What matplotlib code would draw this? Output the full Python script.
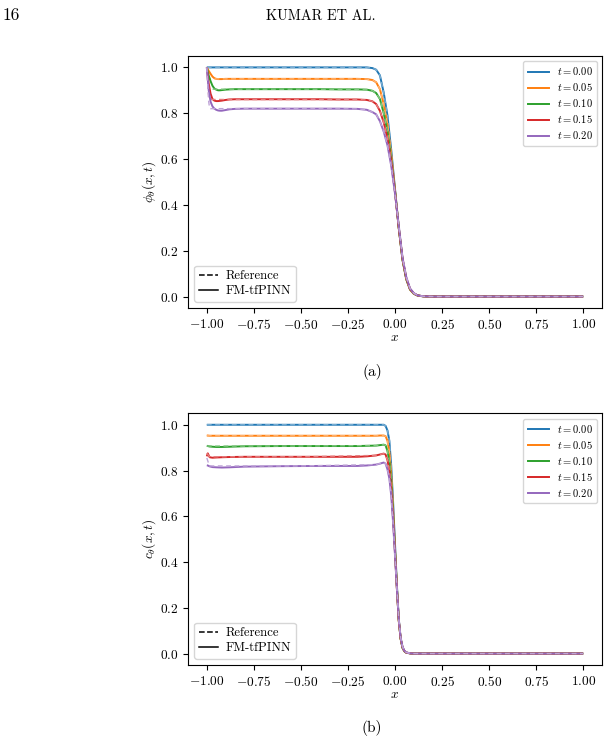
import numpy as np
import matplotlib
matplotlib.use('Agg')
import matplotlib.pyplot as plt
from matplotlib.lines import Line2D
from matplotlib.colors import to_rgb

# 字体设置：Computer Modern 风格
plt.rcParams['font.family'] = 'serif'
plt.rcParams['font.serif'] = ['cmr10', 'DejaVu Serif']
plt.rcParams['mathtext.fontset'] = 'cm'
plt.rcParams['axes.formatter.use_mathtext'] = True
plt.rcParams['axes.unicode_minus'] = True

# 时间标签
t_labels = ['0.00', '0.05', '0.10', '0.15', '0.20']
colors = ['#1f77b4', '#ff7f0e', '#2ca02c', '#d62728', '#9467bd']

# ---------------- (a) phi ----------------
# FM-tfPINN 预测值
xa = [-1.0, -0.99, -0.98, -0.97, -0.96, -0.95, -0.94, -0.93, -0.92, -0.9, -0.88, -0.85, -0.8,
      -0.7, -0.6, -0.5, -0.4, -0.3, -0.2, -0.15, -0.12, -0.1, -0.08, -0.06, -0.04, -0.02,
      0.0, 0.02, 0.04, 0.06, 0.08, 0.1, 0.12, 0.15, 0.2, 0.3, 0.5, 0.75, 1.0]
phi_t000 = [1.0, 1.0, 1.0, 1.0, 1.0, 1.0, 1.0, 1.0, 1.0, 1.0, 1.0, 1.0, 1.0,
            1.0, 1.0, 1.0, 1.0, 1.0, 1.0, 1.0, 0.997, 0.99, 0.965, 0.89, 0.79, 0.64,
            0.47, 0.30, 0.16, 0.075, 0.03, 0.012, 0.004, 0.001, 0.0, 0.0, 0.0, 0.0, 0.0]
phi_t005 = [1.0, 0.985, 0.972, 0.96, 0.953, 0.95, 0.949, 0.949, 0.949, 0.95, 0.95, 0.95, 0.95,
            0.95, 0.95, 0.95, 0.95, 0.95, 0.95, 0.949, 0.945, 0.935, 0.905, 0.84, 0.75, 0.62,
            0.465, 0.30, 0.16, 0.075, 0.03, 0.012, 0.004, 0.001, 0.0, 0.0, 0.0, 0.0, 0.0]
phi_t010 = [1.0, 0.965, 0.94, 0.92, 0.908, 0.903, 0.90, 0.90, 0.901, 0.903, 0.904, 0.905, 0.905,
            0.905, 0.905, 0.905, 0.905, 0.904, 0.904, 0.903, 0.898, 0.888, 0.862, 0.80, 0.72, 0.60,
            0.46, 0.30, 0.162, 0.077, 0.032, 0.013, 0.005, 0.001, 0.0, 0.0, 0.0, 0.0, 0.0]
phi_t015 = [1.0, 0.93, 0.885, 0.862, 0.855, 0.853, 0.853, 0.854, 0.855, 0.858, 0.86, 0.861, 0.861,
            0.861, 0.861, 0.861, 0.861, 0.86, 0.86, 0.858, 0.852, 0.84, 0.81, 0.76, 0.69, 0.59,
            0.455, 0.30, 0.165, 0.08, 0.033, 0.014, 0.005, 0.001, 0.0, 0.0, 0.0, 0.0, 0.0]
phi_t020 = [1.0, 0.90, 0.85, 0.83, 0.82, 0.815, 0.812, 0.811, 0.811, 0.814, 0.817, 0.819, 0.82,
            0.82, 0.82, 0.82, 0.82, 0.82, 0.819, 0.815, 0.805, 0.795, 0.765, 0.72, 0.66, 0.57,
            0.45, 0.31, 0.17, 0.085, 0.035, 0.015, 0.005, 0.001, 0.0, 0.0, 0.0, 0.0, 0.0]

# 参考解
xa_ref = [-1.0, -0.995, -0.99, -0.985, -0.98, -0.9, -0.5, -0.2, -0.15, -0.12, -0.1, -0.08, -0.06,
          -0.04, -0.02, 0.0, 0.02, 0.04, 0.06, 0.08, 0.1, 0.12, 0.15, 0.2, 0.5, 1.0]
phi_ref_t000 = [1.0, 1.0, 1.0, 1.0, 1.0, 1.0, 1.0, 1.0, 1.0, 0.997, 0.99, 0.965, 0.89,
                0.79, 0.64, 0.47, 0.30, 0.16, 0.075, 0.03, 0.012, 0.004, 0.001, 0.0, 0.0, 0.0]
phi_ref_t005 = [1.0, 0.975, 0.958, 0.95, 0.95, 0.95, 0.95, 0.95, 0.949, 0.945, 0.935, 0.905, 0.84,
                0.75, 0.62, 0.465, 0.30, 0.16, 0.075, 0.03, 0.012, 0.004, 0.001, 0.0, 0.0, 0.0]
phi_ref_t010 = [1.0, 0.95, 0.915, 0.905, 0.905, 0.905, 0.905, 0.904, 0.903, 0.898, 0.888, 0.862, 0.80,
                0.72, 0.60, 0.46, 0.30, 0.162, 0.077, 0.032, 0.013, 0.005, 0.001, 0.0, 0.0, 0.0]
phi_ref_t015 = [1.0, 0.93, 0.875, 0.86, 0.86, 0.86, 0.86, 0.86, 0.858, 0.852, 0.84, 0.81, 0.76,
                0.69, 0.59, 0.455, 0.30, 0.165, 0.08, 0.033, 0.014, 0.005, 0.001, 0.0, 0.0, 0.0]
phi_ref_t020 = [1.0, 0.92, 0.85, 0.822, 0.82, 0.82, 0.82, 0.819, 0.815, 0.805, 0.795, 0.765, 0.72,
                0.66, 0.57, 0.45, 0.31, 0.17, 0.085, 0.035, 0.015, 0.005, 0.001, 0.0, 0.0, 0.0]

# ---------------- (b) c ----------------
xb = [-1.0, -0.995, -0.985, -0.97, -0.95, -0.92, -0.88, -0.8, -0.6, -0.4, -0.2, -0.15, -0.1,
      -0.08, -0.06, -0.05, -0.04, -0.03, -0.02, -0.01, 0.0, 0.01, 0.02, 0.03, 0.04, 0.05,
      0.06, 0.08, 0.1, 0.2, 0.5, 1.0]
c_t000 = [1.0, 1.0, 1.0, 1.0, 1.0, 1.0, 1.0, 1.0, 1.0, 1.0, 1.0, 1.0, 1.0,
          1.0, 1.0, 0.995, 0.975, 0.93, 0.82, 0.66, 0.48, 0.30, 0.15, 0.065, 0.025, 0.01,
          0.004, 0.001, 0.0, 0.0, 0.0, 0.0]
c_t005 = [0.953, 0.953, 0.952, 0.952, 0.952, 0.952, 0.952, 0.952, 0.952, 0.952, 0.952, 0.952, 0.952,
          0.953, 0.953, 0.95, 0.93, 0.88, 0.78, 0.63, 0.46, 0.29, 0.145, 0.065, 0.025, 0.01,
          0.004, 0.001, 0.0, 0.0, 0.0, 0.0]
c_t010 = [0.908, 0.907, 0.905, 0.904, 0.903, 0.903, 0.904, 0.906, 0.907, 0.907, 0.907, 0.908, 0.909,
          0.911, 0.913, 0.91, 0.885, 0.84, 0.75, 0.61, 0.45, 0.29, 0.145, 0.065, 0.025, 0.01,
          0.004, 0.001, 0.0, 0.0, 0.0, 0.0]
c_t015 = [0.862, 0.875, 0.858, 0.856, 0.857, 0.858, 0.859, 0.86, 0.86, 0.86, 0.86, 0.862, 0.866,
          0.87, 0.874, 0.87, 0.845, 0.80, 0.72, 0.59, 0.44, 0.285, 0.145, 0.065, 0.027, 0.011,
          0.004, 0.001, 0.0, 0.0, 0.0, 0.0]
c_t020 = [0.823, 0.822, 0.818, 0.815, 0.814, 0.813, 0.814, 0.817, 0.819, 0.82, 0.82, 0.822, 0.826,
          0.83, 0.835, 0.83, 0.805, 0.765, 0.69, 0.57, 0.43, 0.285, 0.15, 0.07, 0.03, 0.012,
          0.005, 0.001, 0.0, 0.0, 0.0, 0.0]

xb_ref = [-1.0, -0.99, -0.985, -0.9, -0.5, -0.1, -0.06, -0.05, -0.04, -0.03, -0.02, -0.01,
          0.0, 0.01, 0.02, 0.03, 0.04, 0.05, 0.06, 0.08, 0.1, 0.5, 1.0]
c_ref_t000 = [1.0, 1.0, 1.0, 1.0, 1.0, 1.0, 1.0, 0.995, 0.975, 0.93, 0.82, 0.66,
              0.48, 0.30, 0.15, 0.065, 0.025, 0.01, 0.004, 0.001, 0.0, 0.0, 0.0]
c_ref_t005 = [0.952, 0.952, 0.952, 0.952, 0.952, 0.952, 0.952, 0.95, 0.93, 0.88, 0.78, 0.63,
              0.46, 0.29, 0.145, 0.065, 0.025, 0.01, 0.004, 0.001, 0.0, 0.0, 0.0]
c_ref_t010 = [0.907, 0.907, 0.907, 0.907, 0.907, 0.909, 0.913, 0.91, 0.885, 0.84, 0.75, 0.61,
              0.45, 0.29, 0.145, 0.065, 0.025, 0.01, 0.004, 0.001, 0.0, 0.0, 0.0]
c_ref_t015 = [0.875, 0.865, 0.86, 0.86, 0.86, 0.866, 0.874, 0.87, 0.845, 0.80, 0.72, 0.59,
              0.44, 0.285, 0.145, 0.065, 0.027, 0.011, 0.004, 0.001, 0.0, 0.0, 0.0]
c_ref_t020 = [0.855, 0.83, 0.82, 0.82, 0.82, 0.826, 0.835, 0.83, 0.805, 0.765, 0.69, 0.57,
              0.43, 0.285, 0.15, 0.07, 0.03, 0.012, 0.005, 0.001, 0.0, 0.0, 0.0]


def lighten(c, amount=0.4):
    # 将颜色向白色混合，用于虚线参考解
    r, g, b = to_rgb(c)
    return (r + (1 - r) * amount, g + (1 - g) * amount, b + (1 - b) * amount)


def draw_panel(ax, x, ys, x_ref, ys_ref, ylabel):
    for y, y_ref, c, lab in zip(ys, ys_ref, colors, t_labels):
        ax.plot(x, y, color=c, lw=1.4, solid_capstyle='butt')
        ax.plot(x_ref, y_ref, color=lighten(c), lw=1.0, ls=(0, (3.5, 2.5)))
    ax.set_xlim(-1.1, 1.1)
    ax.set_ylim(-0.05, 1.05)
    ax.set_xticks([-1.0, -0.75, -0.5, -0.25, 0.0, 0.25, 0.5, 0.75, 1.0])
    ax.set_yticks([0.0, 0.2, 0.4, 0.6, 0.8, 1.0])
    ax.tick_params(labelsize=9.6, length=3.5, width=0.8)
    for s in ax.spines.values():
        s.set_linewidth(0.8)
    ax.set_xlabel(r'$x$', fontsize=9.6, labelpad=0)
    ax.set_ylabel(ylabel, fontsize=9.6, labelpad=1)

    # 颜色图例（时间）
    h1 = [Line2D([], [], color=c, lw=1.4) for c in colors]
    leg1 = ax.legend(h1, [r'$t=%s$' % s for s in t_labels], loc='upper right',
                     fontsize=7.6, handlelength=2.0, handletextpad=0.75,
                     labelspacing=0.38, borderpad=0.4)
    ax.add_artist(leg1)
    # 线型图例
    h2 = [Line2D([], [], color='black', lw=1.1, ls='--'),
          Line2D([], [], color='black', lw=1.1, ls='-')]
    ax.legend(h2, ['Reference', 'FM-tfPINN'], loc='lower left', fontsize=9.2,
              handlelength=1.5, handletextpad=0.6, labelspacing=0.2, borderpad=0.35)


fig = plt.figure(figsize=(6.09, 7.45), dpi=100)
ax_a = fig.add_axes([0.3087, 0.5866, 0.6798, 0.3383])
ax_b = fig.add_axes([0.3087, 0.1074, 0.6798, 0.3378])

draw_panel(ax_a, xa, [phi_t000, phi_t005, phi_t010, phi_t015, phi_t020],
           xa_ref, [phi_ref_t000, phi_ref_t005, phi_ref_t010, phi_ref_t015, phi_ref_t020],
           r'$\phi_{\theta}(x,t)$')
draw_panel(ax_b, xb, [c_t000, c_t005, c_t010, c_t015, c_t020],
           xb_ref, [c_ref_t000, c_ref_t005, c_ref_t010, c_ref_t015, c_ref_t020],
           r'$c_{\theta}(x,t)$')

# 页眉和子图标题
fig.text(3 / 609, 1 - 20 / 745, '16', fontsize=12.5, ha='left', va='baseline')
fig.text(321 / 609, 1 - 20 / 745, 'KUMAR ET AL.', fontsize=10.3, ha='center', va='baseline')
fig.text(372 / 609, 1 - 372 / 745, '(a)', fontsize=11, ha='center', va='center')
fig.text(372 / 609, 1 - 728 / 745, '(b)', fontsize=11, ha='center', va='center')

fig.savefig('out.png', dpi=100)
